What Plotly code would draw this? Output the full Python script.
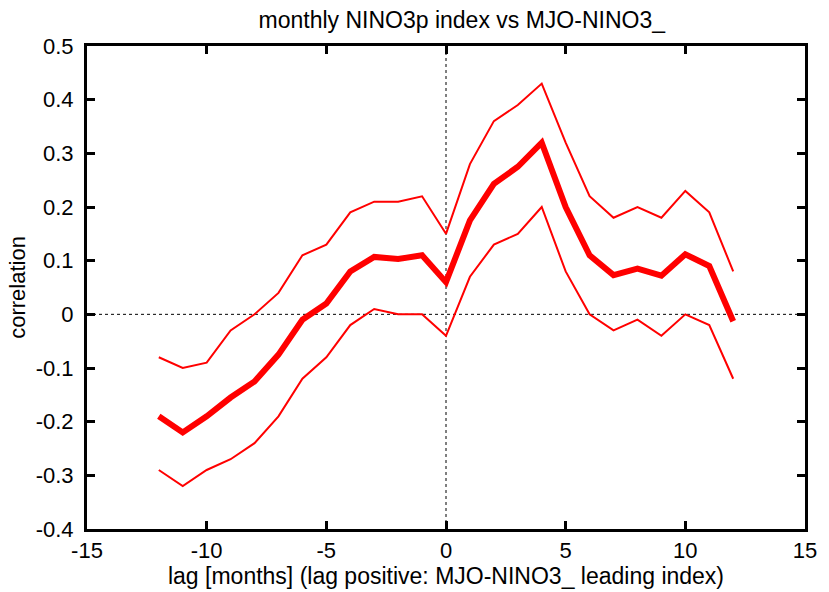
import plotly.graph_objects as go

lags = list(range(-12, 13))
corr = [-0.19, -0.22, -0.19, -0.155, -0.125, -0.075, -0.01, 0.02, 0.08, 0.107, 0.103, 0.11,
        0.06, 0.175, 0.243, 0.275, 0.32, 0.20, 0.11, 0.073, 0.085, 0.072, 0.112, 0.09, -0.013]
upper = [-0.08, -0.10, -0.09, -0.03, 0.0, 0.04, 0.11, 0.13, 0.19, 0.21, 0.21, 0.22,
         0.15, 0.28, 0.36, 0.39, 0.43, 0.32, 0.22, 0.18, 0.20, 0.18, 0.23, 0.19, 0.08]
lower = [-0.29, -0.32, -0.29, -0.27, -0.24, -0.19, -0.12, -0.08, -0.02, 0.01, 0.0, 0.0,
         -0.04, 0.07, 0.13, 0.15, 0.20, 0.08, 0.0, -0.03, -0.01, -0.04, 0.0, -0.02, -0.12]

xticks = [-15, -10, -5, 0, 5, 10, 15]
yticks = [0.5, 0.4, 0.3, 0.2, 0.1, 0, -0.1, -0.2, -0.3, -0.4]
ytick_text = ["0.5", "0.4", "0.3", "0.2", "0.1", "0", "-0.1", "-0.2", "-0.3", "-0.4"]

fig = go.Figure()
fig.add_trace(go.Scatter(x=lags, y=upper, mode="lines", line=dict(color="red", width=2), showlegend=False))
fig.add_trace(go.Scatter(x=lags, y=lower, mode="lines", line=dict(color="red", width=2), showlegend=False))
fig.add_trace(go.Scatter(x=lags, y=corr, mode="lines", line=dict(color="red", width=6), showlegend=False))

fig.add_shape(type="line", xref="x", yref="y", x0=-15, x1=15, y0=0, y1=0,
              line=dict(color="black", width=1, dash="dot"), layer="below")
fig.add_shape(type="line", xref="x", yref="y", x0=0, x1=0, y0=-0.4, y1=0.5,
              line=dict(color="black", width=1, dash="dot"), layer="below")

axis_common = dict(showline=True, linecolor="black", linewidth=3, mirror="ticks",
                   ticks="inside", ticklen=8, tickwidth=3, tickcolor="black",
                   showgrid=False, zeroline=False,
                   tickfont=dict(family="Liberation Sans", size=22, color="black"))

fig.update_layout(
    width=829, height=592,
    margin=dict(l=87, r=14, t=46, b=56),
    plot_bgcolor="white", paper_bgcolor="white",
    title=dict(text="monthly NINO3p index vs MJO-NINO3_", xref="container", x=0.557,
               xanchor="center", yref="container", y=0.966, yanchor="middle",
               font=dict(family="Liberation Sans", size=23, color="black")),
    xaxis=dict(range=[-15, 15], tickvals=xticks, ticktext=[str(v) for v in xticks],
               ticklabelstandoff=0,
               title=dict(text="lag [months] (lag positive: MJO-NINO3_ leading index)",
                          font=dict(family="Liberation Sans", size=23, color="black"), standoff=0),
               **axis_common),
    yaxis=dict(range=[-0.4, 0.5], tickvals=yticks, ticktext=ytick_text,
               ticklabelstandoff=6,
               title=dict(text="correlation",
                          font=dict(family="Liberation Sans", size=22, color="black"), standoff=4),
               **axis_common),
)

fig.write_html("out.html")
